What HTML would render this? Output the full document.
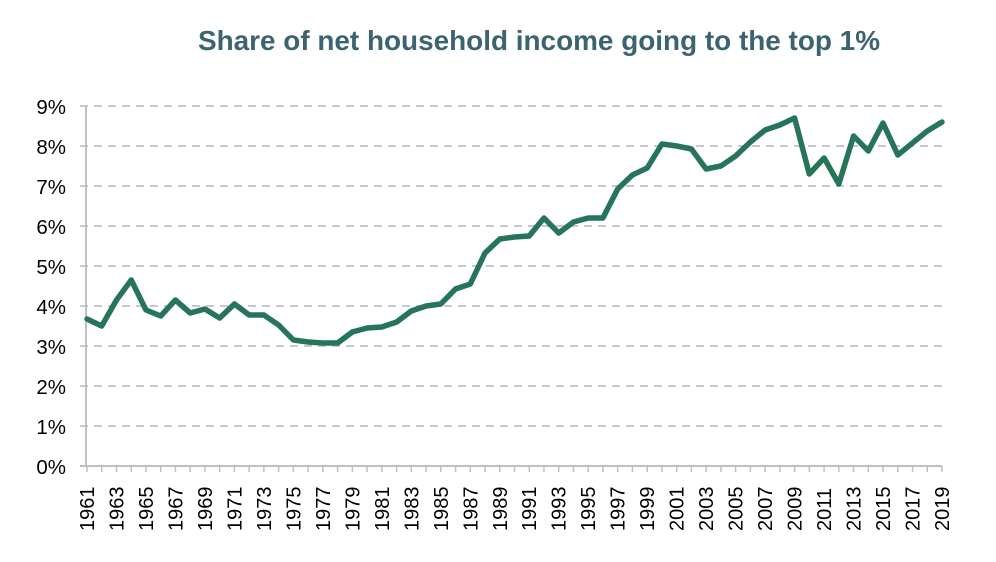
<!DOCTYPE html>
<html><head><meta charset="utf-8"><style>
body{margin:0;background:#fff;}
svg{display:block;font-family:"Liberation Sans",Arial,sans-serif;}
</style></head><body>
<svg width="996" height="562" viewBox="0 0 996 562">
<text x="539" y="50" text-anchor="middle" font-size="27.5" font-weight="bold" fill="#3b6470" textLength="682" lengthAdjust="spacingAndGlyphs">Share of net household income going to the top 1%</text>
<g stroke="#c8c8c8" stroke-width="2" stroke-dasharray="8,6">
<line x1="80" y1="106" x2="942" y2="106"/><line x1="80" y1="146" x2="942" y2="146"/>
<line x1="80" y1="186" x2="942" y2="186"/><line x1="80" y1="226" x2="942" y2="226"/>
<line x1="80" y1="266" x2="942" y2="266"/><line x1="80" y1="306" x2="942" y2="306"/>
<line x1="80" y1="346" x2="942" y2="346"/><line x1="80" y1="386" x2="942" y2="386"/>
<line x1="80" y1="426" x2="942" y2="426"/>
</g>
<g stroke="#c0c0c0" stroke-width="2">
<line x1="86" y1="106" x2="86" y2="466"/><line x1="80" y1="466" x2="942" y2="466"/>
</g>
<g id="ticks" stroke="#c0c0c0" stroke-width="1.5"></g>
<g font-size="20.5" fill="#000" text-anchor="end">
<text x="66" y="114">9%</text><text x="66" y="154">8%</text><text x="66" y="194">7%</text>
<text x="66" y="234">6%</text><text x="66" y="274">5%</text><text x="66" y="314">4%</text>
<text x="66" y="354">3%</text><text x="66" y="394">2%</text><text x="66" y="434">1%</text>
<text x="66" y="474">0%</text>
</g>
<g id="xl" font-size="20" fill="#000"></g>
<polyline id="ln" fill="none" stroke="#267556" stroke-width="5.5" stroke-linejoin="round" stroke-linecap="round"/>
</svg>
<script>
var ys=[319,326,300,280,310,316,300,313,309,318,304,315,315,325,340,342,343,343,332,328,327,322,311,306,304,289,284,253,239,237,236,218,233,222,218,218,189,175,168,144,146,149,169,166,156,142,130,125,118,174,158,184,136,151,123,155,143,131,122];
var x0=87,dx=(942-87)/58,pts=[],ns="http://www.w3.org/2000/svg";
var tk=document.getElementById('ticks'),xl=document.getElementById('xl');
for(var i=0;i<59;i++){var x=x0+i*dx;pts.push(x.toFixed(1)+","+ys[i]);
var l=document.createElementNS(ns,'line');l.setAttribute('x1',x);l.setAttribute('x2',x);l.setAttribute('y1',466);l.setAttribute('y2',472);tk.appendChild(l);
if(i%2==0){var t=document.createElementNS(ns,'text');t.setAttribute('transform','translate('+(x+7)+',531) rotate(-90)');t.textContent=1961+i;xl.appendChild(t);}}
document.getElementById('ln').setAttribute('points',pts.join(' '));
</script>
</body></html>
